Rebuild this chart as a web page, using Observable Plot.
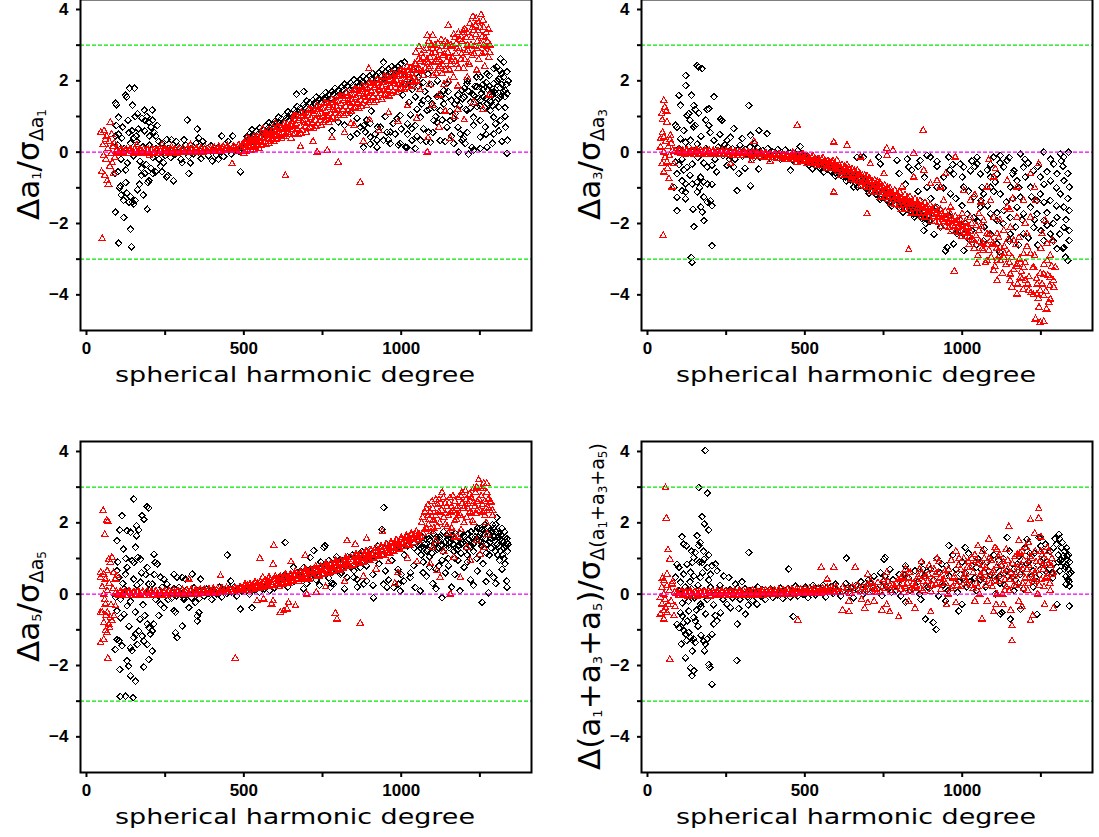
<!DOCTYPE html>
<html><head><meta charset="utf-8">
<script src="https://cdn.jsdelivr.net/npm/d3@7"></script>
<script src="https://cdn.jsdelivr.net/npm/@observablehq/plot@0.6"></script>
<style>
html,body{margin:0;padding:0;background:#fff;}
#wrap{position:relative;width:1099px;height:837px;overflow:hidden;background:#fff;}
#wrap svg{position:absolute;overflow:visible;}
</style></head><body><div id="wrap"></div>
<script>
// ---------- tick values ----------
const xTicks = [0, 250, 500, 750, 1000, 1250];
const xLabelled = [0, 500, 1000];
const yTicks = [-4, -3, -2, -1, 0, 1, 2, 3, 4];
const yLabelled = [-4, -2, 0, 2, 4];
const limitLines = [3, -3];
const zeroLine = [0];
const xTitle = "spherical harmonic degree";

// ---------- panel 1 : delta a1 ----------
const a1Black = [[92,1.37],[95,1.33],[124,1.6],[128,1.55],[137,1.79],[152,1.79],[146,1.31],[102,0.98],[162,1.08],[184,1.18],[209,1.18],[176,0.95],[186,0.9],[192,1.0],[198,0.85],[210,0.9],[135,0.55],[145,0.6],[92,0.45],[102,0.5],[112,0.4],[150,0.4],[158,0.45],[200,0.45],[220,0.45],[230,0.3],[255,0.35],[270,0.35],[92,-0.6],[105,-1.0],[108,-0.95],[92,-1.68],[118,-1.83],[102,-2.55],[140,-2.16],[143,-2.65],[128,-1.15],[140,-1.25],[135,-1.4],[145,-1.4],[150,-1.45],[155,-1.35],[118,-1.35],[162,-1.05],[193,-1.6],[175,-0.65],[185,-0.6],[195,-0.85],[198,-0.8],[210,-0.6],[220,-0.55],[235,-0.4],[245,-0.3],[255,-0.7],[258,-0.65],[277,-0.8],[325,-0.6],[489,-0.55],[304,-0.3],[320,0.9],[352,0.65],[357,0.4],[430,0.45],[465,0.45],[526,0.63],[667,1.62],[690,1.7],[100,0.2],[110,-0.2],[120,0.1],[130,-0.3],[140,0.25],[150,-0.1],[160,0.3],[170,-0.25],[180,0.15],[190,-0.35],[200,0.2],[210,-0.15],[220,0.1],[230,-0.2],[240,0.25],[250,-0.1],[115,0.7],[125,-0.5],[165,0.65],[175,-0.45],[185,0.6],[205,-0.45],[215,0.55],[240,-0.55],[125,-0.85],[168,-0.9],[180,-1.2],[110,-1.2],[100,-0.55],[95,0.75],[132,0.9],[155,1.0],[205,0.7],[225,0.75],
[260,0.1],[268,-0.15],[276,0.2],[284,-0.05],[292,0.15],[300,-0.2],[308,0.05],[316,0.2],[324,-0.12],[332,0.1],[340,-0.05],[348,0.25],[356,0.0],[364,-0.18],[372,0.12],[380,0.02],[388,-0.1],[396,0.18],[404,0.05],[412,-0.08],[420,0.15],[428,0.02],[436,-0.12],[444,0.12],[452,0.05],[460,-0.05],[468,0.15],[476,0.08],[484,0.02],[492,0.18],[500,0.1],[285,0.3],[310,0.35],[330,-0.3],[370,0.3],[400,-0.25],[450,0.3],[420,-0.2],
[870,0.7],[881,0.75],[886,0.56],[902,0.42],[918,0.51],[934,0.7],[955,0.56],[981,0.51],[987,0.94],[997,1.03],[1013,0.14],[1034,0.66],[1045,0.75],[1061,0.98],[1082,1.17],[1098,1.36],[1114,1.55],[1124,1.17],[1135,1.73],[1145,1.92],[1167,0.94],[1172,1.08],[1188,0.51],[1198,0.38],[1204,0.24],[1225,0.14],[1241,1.27],[1251,1.45],[1262,1.55],[1273,1.36],[1283,1.17],[1294,1.92],[1304,2.39],[1315,2.29],[1326,2.11],[1336,1.64],[1251,0.42],[1273,0.14],[1294,0.51],[1315,0.89],[1331,0.7],[1338,0.33],[1267,0.7],[1283,1.45],[1299,1.64],[1310,1.27],[880,0.14],[902,0.23],[923,0.14],[965,0.24],[1018,0.14],[1045,0.1],[1183,0.0],[1214,-0.06],[1230,0.05],[1251,0.1],[1336,-0.03],[1071,0.66],[1087,0.56],[1103,0.89],[1114,0.84],[1146,0.7],[1156,0.89],[1177,1.45],[1193,1.73],[1209,1.92],[1225,1.64],[1241,1.83],[1251,2.11],[1273,2.2],[1294,2.34],[1315,2.62],[1326,2.53],[1336,2.25],[1340,2.0],[1209,1.17],[1230,0.98],[1251,0.89],[1294,0.98],[1315,1.55],[1331,1.73],[1193,0.33],[1167,0.24],[1124,0.33],[1093,0.28],[1061,0.33],[1034,0.33],[997,0.24],[965,0.56],[944,0.33],[923,0.33],[902,0.8],[860,0.52],[838,0.42],[944,2.52],[1010,2.52],[1005,1.6],[1015,1.9],[1025,1.4],[1035,1.75],[1045,1.55],[1055,1.85],[1065,1.35],[1075,1.7],[1085,1.5],[1095,1.9],[1105,1.25],[1115,2.0],[1125,1.6],[1135,1.35],[1150,1.7],[1160,1.45],[1185,1.3],[1200,1.55],[1220,1.25],[1260,1.75],[1280,1.85],[1300,1.4],[1320,1.9],[1330,1.25],[1310,2.05],[1290,1.6],[1270,1.95]];

const a1BlackBand = [[505,0.23],[510,0.43],[515,0.36],[520,0.53],[525,0.3],[530,0.49],[535,0.38],[540,0.58],[545,0.5],[550,0.68],[555,0.45],[560,0.64],[565,0.53],[570,0.73],[575,0.66],[580,0.83],[585,0.6],[590,0.79],[595,0.68],[600,0.88],[605,0.81],[610,0.98],[615,0.75],[620,0.94],[625,0.83],[630,1.03],[635,0.96],[640,1.13],[645,0.9],[650,1.09],[655,0.98],[660,1.18],[665,1.11],[670,1.28],[675,1.05],[680,1.24],[685,1.13],[690,1.33],[695,1.26],[700,1.43],[705,1.19],[710,1.38],[715,1.26],[720,1.46],[725,1.38],[730,1.55],[735,1.31],[740,1.5],[745,1.38],[750,1.58],[755,1.5],[760,1.67],[765,1.43],[770,1.62],[775,1.5],[780,1.7],[785,1.62],[790,1.79],[795,1.55],[800,1.74],[805,1.62],[810,1.82],[815,1.74],[820,1.91],[825,1.67],[830,1.86],[835,1.74],[840,1.94],[845,1.86],[850,2.03],[855,1.79],[860,1.97],[865,1.85],[870,2.04],[875,1.96],[880,2.12],[885,1.88],[890,2.06],[895,1.94],[900,2.13],[905,2.05],[910,2.21],[915,1.97],[920,2.16],[925,2.04],[930,2.23],[935,2.15],[940,2.32],[945,2.07],[950,2.26],[955,2.13],[960,2.33],[965,2.24],[970,2.4],[975,2.16],[980,2.34],[985,2.21],[990,2.4],[995,2.32],[1000,2.48]];

const a1BlackFill = [[1200,1.8],[1210,2.0],[1220,1.4],[1230,1.6],[1240,2.1],[1250,1.3],[1260,1.9],[1270,1.5],[1280,2.15],[1290,1.3],[1300,1.75],[1310,1.5],[1320,2.2],[1330,1.55],[1335,1.9],[1325,1.7],[1315,1.8],[1305,2.0],[1295,1.7],[1285,1.4],[1275,1.75],[1265,1.25],[1255,1.65],[1245,1.5],[1235,1.85],[1215,1.7],[1205,1.2],[1195,1.5],[1180,1.6],[1170,1.35],[1155,1.15],[1140,1.5],[1130,0.9],[1110,1.0],[1090,1.2],[1070,1.45],[1050,1.2],[1030,1.05],[1020,0.8],[1000,0.65],[975,0.8],[950,1.0],[925,0.7],[905,1.15],[890,0.9],[860,0.95],[840,1.1],[820,0.75],[800,0.85],[780,0.6],[1310,0.6],[1320,0.3],[1290,0.25],[1270,0.5],[1230,0.75],[1210,0.55],[1180,0.7],[1160,0.45],[1140,0.3],[1100,0.55],[1080,0.3],[1050,0.45],[1020,0.5],[990,0.2],[960,0.35],[1330,1.0],[1300,0.8],[1010,2.2],[1025,2.05],[1040,2.3],[1055,2.1],[1070,1.95],[1085,2.2]];

const a1Red = [[50,-2.43],[45,0.55],[48,-0.55],[52,0.2],[54,-0.1],[56,0.6],[58,-0.65],[60,0.35],[62,-0.2],[64,0.45],[66,-0.8],[68,0.1],[70,-0.9],[72,0.3],[74,-0.4],[76,0.83],[78,-0.05],[80,0.5],[82,-0.3],[84,0.15],[86,-0.6],[88,0.25],[90,-0.15],
[95,0.03],[102,-0.02],[109,0.05],[116,0.0],[123,0.04],[130,-0.03],[137,0.06],[144,0.01],[151,-0.02],[158,0.04],[165,0.0],[172,0.05],[179,-0.02],[186,0.03],[193,0.06],[200,0.0],[207,0.04],[214,-0.02],[221,0.05],[228,0.01],[235,0.03],[242,-0.03],[249,0.06],[256,0.02],[263,0.0],[270,0.05],[277,0.03],[284,-0.02],[291,0.06],[298,0.02],[305,0.04],[312,0.0],[319,0.06],[326,0.03],[333,0.05],[340,0.01],[347,0.07],[354,0.03],[361,0.05],[368,0.02],[375,0.07],[382,0.04],[389,0.08],[396,0.03],[403,0.07],[410,0.05],[417,0.09],[424,0.05],[431,0.1],[438,0.07],[445,0.11],[452,0.08],
[460,0.04],[468,0.17],[476,0.08],[484,0.2],[492,0.05],[472,0.11],[488,0.13],[464,0.12],[480,0.02],[496,0.22],
[1045,2.45],[1050,2.0],[1055,2.6],[1060,2.3],[1065,2.75],[1070,2.15],[1075,2.5],[1080,2.9],[1083,3.27],[1088,2.35],[1092,2.65],[1096,3.0],[1100,3.27],[1104,2.5],[1108,2.8],[1112,2.2],[1116,3.05],[1120,2.6],[1124,2.4],[1128,2.95],[1132,2.7],[1136,1.9],[1140,3.1],[1144,2.55],[1148,2.8],[1150,3.55],[1154,2.3],[1158,3.0],[1162,2.65],[1166,2.1],[1170,3.2],[1174,2.75],[1178,2.45],[1182,3.35],[1186,2.9],[1190,2.6],[1194,3.1],[1198,2.35],[1202,3.45],[1206,2.8],[1210,3.0],[1214,2.5],[1218,3.6],[1222,3.2],[1226,2.7],[1230,3.4],[1234,2.95],[1238,3.75],[1242,3.1],[1246,2.6],[1250,3.5],[1254,3.85],[1258,3.25],[1262,3.0],[1266,2.8],[1270,3.35],[1274,3.1],[1278,2.65],[1282,3.0],
[1060,1.75],[1090,1.9],[1120,1.6],[1150,2.0],[1180,1.85],[1210,2.1],[1240,2.3],[1265,2.4],[1100,1.3],[1140,1.15],[1180,1.2],
[733,0.0],[765,0.05],[800,-0.29],[870,-0.85],[632,-0.66],[463,-0.33],[780,0.4],[820,0.55],[850,0.75],[880,0.3],[900,0.9],[930,0.6],[960,1.1],[990,0.85],[1020,1.3],[1050,0.95],[1083,0.0],[1085,0.4],[1120,0.7],[1156,0.38],[1170,1.0],[1200,0.9],[1230,1.4],[1260,1.2],[1280,1.6],
[897,2.34],[560,0.65],[580,0.62],[600,0.8],[655,0.78],[330,0.2],[240,0.2],[680,0.15],[720,0.3],[840,0.8],[160,0.2],[200,-0.1],[270,0.15]];

const a1RedBand = [[500,-0.03],[503,0.26],[506,0.12],[509,0.38],[512,0.07],[515,0.24],[518,0.35],[521,0.13],[524,0.04],[527,0.33],[530,0.19],[533,0.45],[536,0.14],[539,0.31],[542,0.43],[545,0.21],[548,0.11],[551,0.4],[554,0.26],[557,0.53],[560,0.22],[563,0.39],[566,0.51],[569,0.29],[572,0.2],[575,0.49],[578,0.35],[581,0.61],[584,0.3],[587,0.47],[590,0.59],[593,0.38],[596,0.29],[599,0.58],[602,0.44],[605,0.7],[608,0.39],[611,0.56],[614,0.69],[617,0.47],[620,0.38],[623,0.67],[626,0.53],[629,0.8],[632,0.49],[635,0.66],[638,0.78],[641,0.56],[644,0.48],[647,0.77],
[650,0.39],[653,0.86],[656,0.62],[659,1.02],[662,0.52],[665,0.79],[668,1.0],[671,0.63],[674,0.48],[677,0.95],[680,0.71],[683,1.11],[686,0.61],[689,0.88],[692,1.08],[695,0.71],[698,0.56],[701,1.03],[704,0.8],[707,1.2],[710,0.7],[713,0.97],[716,1.17],[719,0.8],[722,0.65],[725,1.13],[728,0.89],[731,1.29],[734,0.79],[737,1.06],[740,1.26],[743,0.89],[746,0.75],[749,1.22],[752,0.98],[755,1.38],[758,0.88],[761,1.15],[764,1.36],[767,0.99],[770,0.84],[773,1.31],[776,1.07],[779,1.48],[782,0.98],[785,1.25],[788,1.45],[791,1.08],[794,0.94],[797,1.41],[800,1.17],[803,1.57],[806,1.07],[809,1.35],[812,1.55],[815,1.18],[818,1.03],[821,1.5],[824,1.27],[827,1.67],[830,1.17],[833,1.44],[836,1.64],[839,1.28],[842,1.13],[845,1.6],[848,1.36],[851,1.76],[854,1.26],[857,1.54],[860,1.74],[863,1.37],[866,1.22],[869,1.69],[872,1.45],[875,1.85],[878,1.35],[881,1.62],[884,1.82],[887,1.45],[890,1.3],[893,1.78],[896,1.54],[899,1.94],[902,1.44],[905,1.71],[908,1.91],[911,1.54],[914,1.39],[917,1.87],[920,1.63],[923,2.03],[926,1.53],[929,1.8],[932,2.0],[935,1.63],[938,1.48],[941,1.96],[944,1.72],[947,2.12],[950,1.62],[953,1.89],[956,2.09],[959,1.72],[962,1.57],[965,2.04],[968,1.81],[971,2.21],[974,1.71],[977,1.98],[980,2.18],[983,1.81],[986,1.66],[989,2.13],[992,1.89],[995,2.29],[998,1.79],[1001,2.06],[1004,2.27],[1007,1.9],[1010,1.75],[1013,2.22],[1016,1.98],[1019,2.39],[1022,1.89],[1025,2.16],[1028,2.36],[1031,1.99],[1034,1.85],[1037,2.32],[1040,2.08],[1043,2.48],[1046,1.98],
[501,0.18],[507,0.03],[513,0.36],[519,0.15],[525,0.31],[531,0.08],[537,0.38],[543,0.27],[549,0.33],[555,0.18],[561,0.51],[567,0.3],[573,0.46],[579,0.24],[585,0.55],[591,0.44],[597,0.5],[603,0.35],[609,0.69],[615,0.48],[621,0.64],[627,0.43],[633,0.73],[639,0.63],[645,0.69],
[651,0.73],[657,0.49],[663,1.0],[669,0.65],[675,0.89],[681,0.53],[687,1.01],[693,0.82],[699,0.91],[705,0.66],[711,1.17],[717,0.83],[723,1.07],[729,0.71],[735,1.19],[741,1.0],[747,1.09],[753,0.84],[759,1.36],[765,1.01],[771,1.25],[777,0.9],[783,1.38],[789,1.19],[795,1.28],[801,1.03],[807,1.55],[813,1.2],[819,1.45],[825,1.09],[831,1.57],[837,1.38],[843,1.47],[849,1.23],[855,1.74],[861,1.39],[867,1.63],[873,1.27],[879,1.75],[885,1.56],[891,1.65],[897,1.4],[903,1.91],[909,1.56],[915,1.81],[921,1.45],[927,1.93],[933,1.74],[939,1.83],[945,1.58],[951,2.09],[957,1.75],[963,1.99],[969,1.63],[975,2.11],[981,1.91],[987,2.0],[993,1.76],[999,2.27],[1005,1.92],[1011,2.16],[1017,1.81],[1023,2.29],[1029,2.1],[1035,2.19],[1041,1.94]];

const a1RedFill = [[98,0.07],[105,-0.04],[112,0.07],[119,-0.03],[126,0.08],[133,-0.04],[140,0.07],[147,-0.05],[154,0.08],[161,-0.03],[168,0.07],[175,-0.04],[182,0.08],[189,-0.03],[196,0.07],[203,-0.05],[210,0.08],[217,-0.03],[224,0.07],[231,-0.04],[238,0.08],[245,-0.03],[252,0.07],[259,-0.04],[266,0.09],[273,-0.02],[280,0.08],[287,-0.03],[294,0.09],[301,-0.02],[308,0.09],[315,-0.02],[322,0.1],[329,-0.01],[336,0.1],[343,-0.01],[350,0.11],[357,0.0],[364,0.11],[371,0.0],[378,0.12],[385,0.01],[392,0.13],[399,0.01],[406,0.14],[413,0.02],[420,0.15],[427,0.03],[434,0.16],[441,0.04],[448,0.17],[455,0.05],
[1047,2.8],[1052,2.3],[1057,2.95],[1062,2.55],[1067,2.25],[1072,2.85],[1077,2.35],[1082,2.6],[1087,3.1],[1092,2.4],[1097,2.75],[1102,2.15],[1107,3.0],[1112,2.55],[1117,2.35],[1122,2.85],[1127,3.15],[1132,2.45],[1137,2.75],[1142,2.3],[1147,3.05],[1152,2.65],[1157,2.45],[1162,2.95],[1167,3.3],[1172,2.55],[1177,2.9],[1182,2.35],[1187,3.15],[1192,2.75],[1197,3.4],[1202,2.6],[1207,3.2],[1212,2.85],[1217,2.45],[1222,3.0],[1227,3.5],[1232,2.75],[1237,3.3],[1242,2.9],[1247,3.65],[1252,3.05],[1257,2.75],[1262,3.5],[1267,3.2],[1272,2.95],[1277,3.45],[1281,2.8],[1228,3.8],[1236,3.55],[1244,3.4],[1260,3.7],[1210,3.35],[1190,3.25],[1175,3.05],[1160,2.55],[1145,2.95],[1130,2.2],[1115,2.65],[1100,2.9],[1085,2.5],[1070,2.65],[1055,2.35]];

// ---------- panel 2 : delta a3 ----------
const a3Black = [[158,2.43],[163,2.39],[174,2.34],[121,2.15],[121,1.87],[100,1.59],[105,1.31],[140,1.59],[147,1.31],[152,1.2],[126,1.03],[131,1.08],[163,1.1],[190,1.2],[195,1.22],[211,1.55],[232,0.93],[237,0.89],[322,1.31],[89,0.75],[94,0.7],[115,0.61],[147,0.7],[152,0.75],[195,0.75],[274,0.66],[354,0.61],[380,0.52],[105,0.38],[121,0.28],[137,0.33],[158,0.23],[211,0.33],[253,0.33],[264,0.42],[301,0.38],[327,0.47],[89,-0.28],[100,-0.35],[126,-0.42],[142,-0.33],[179,-0.3],[190,-0.42],[205,-0.37],[253,-0.37],[274,-0.42],[94,-0.61],[110,-0.8],[121,-0.89],[84,-0.98],[94,-1.26],[110,-1.08],[121,-1.12],[142,-0.89],[158,-0.84],[169,-0.7],[179,-0.84],[190,-0.89],[94,-1.64],[121,-1.31],[158,-1.12],[179,-1.26],[190,-1.4],[169,-1.54],[174,-1.68],[200,-1.36],[205,-1.5],[179,-1.92],[147,-2.09],[205,-2.62],[139,-2.95],[142,-3.09],[285,-1.08],[327,-0.94],[354,-0.47],[454,-0.51],[486,0.16],[100,0.1],[130,0.15],[160,-0.15],[185,0.1],[215,-0.2],[225,0.15],[240,-0.1],[245,0.2],[110,-0.2],[150,0.05],[170,0.45],[200,0.55],[220,-0.55],[230,0.5],[260,-0.2],[290,-0.6],[310,-0.45],[340,0.25],[135,0.9],[185,0.9],[115,-0.5],[135,-0.65],[205,-0.9],[165,-1.0],[145,-1.6],
[255,0.15],[262,-0.1],[270,0.1],[278,-0.2],[286,0.05],[294,0.2],[302,-0.12],[310,0.08],[318,-0.05],[326,0.15],[334,-0.2],[342,0.0],[350,0.12],[358,-0.15],[366,0.05],[374,-0.08],[382,0.1],[390,-0.18],[398,0.0],[406,-0.1],[414,0.08],[422,-0.2],[430,-0.05],[438,0.06],[446,-0.15],[454,-0.02],[462,-0.22],[470,-0.08],[478,0.05],[486,-0.18],[494,-0.1],[502,-0.25],[510,-0.15],
[518,-0.3],[526,-0.24],[534,-0.36],[542,-0.29],[550,-0.4],[558,-0.33],[566,-0.46],[574,-0.38],[582,-0.52],[590,-0.44],[598,-0.58],[606,-0.5],[614,-0.64],[622,-0.56],[630,-0.7],[638,-0.62],[646,-0.78],[654,-0.7],[662,-0.86],[670,-0.77],[678,-0.94],[686,-0.85],[694,-1.02],[702,-0.93],[710,-1.1],[718,-1.0],[726,-1.18],[734,-1.08],[742,-1.26],[750,-1.15],[758,-1.33],[766,-1.22],[774,-1.4],[782,-1.3],[790,-1.47],[798,-1.37],[806,-1.53],[814,-1.42],[822,-1.6],[830,-1.5],[838,-1.66],[846,-1.55],[854,-1.72],[862,-1.62],[870,-1.8],[878,-1.68],[886,-1.88],[894,-1.76],
[666,-0.14],[687,-0.14],[735,-0.14],[740,-0.33],[793,-0.23],[825,-0.19],[830,-0.42],[867,-0.23],[888,-0.09],[899,-0.14],[957,-0.14],[994,-0.33],[1047,-0.14],[1047,-0.33],[1100,-0.14],[1121,-0.09],[1143,-0.23],[1185,-0.05],[1259,0.0],[1312,-0.05],[1338,0.0],[1323,-0.14],[1291,-0.33],[1301,-0.61],[1323,-0.8],[1280,-0.8],[1248,-0.7],[1227,-0.52],[1195,-0.42],[1164,-0.52],[1132,-0.42],[1111,-0.61],[1090,-0.7],[1058,-0.61],[1026,-0.52],[1005,-0.42],[973,-0.61],[941,-0.7],[920,-0.98],[963,-1.17],[1005,-0.98],[1037,-1.26],[1068,-1.17],[1090,-0.98],[1121,-1.17],[1153,-0.98],[1185,-1.26],[1217,-0.98],[1248,-1.17],[1280,-1.36],[1312,-1.17],[1340,-0.98],[1340,-1.64],[1323,-1.54],[1301,-1.83],[1323,-2.11],[1340,-2.48],[1323,-2.67],[1301,-2.71],[1328,-2.95],[1335,-3.04],[1280,-2.29],[1259,-1.92],[1238,-1.73],[1217,-1.54],[1195,-1.73],[1174,-1.54],[1153,-1.83],[1132,-1.64],[1111,-1.92],[1090,-1.73],[1058,-1.54],[1037,-1.83],[1016,-1.73],[994,-1.92],[984,-2.29],[1005,-2.29],[952,-2.67],[947,-2.76],[973,-2.57],[1005,-2.76],[1026,-2.48],[1068,-2.48],[1111,-2.57],[1153,-2.29],[1195,-2.29],[1227,-2.11],[1259,-2.48],[1238,-1.36],[1174,-0.8],[1105,-0.84],[1063,-0.98],[888,-0.98],[867,-1.36],[846,-1.73],[878,-2.2],[899,-1.92],[920,-1.54],[931,-2.11],[793,-1.36],[772,-1.17],[729,-0.94],[645,-0.61],[602,-0.52],[655,-0.98]];

const a3BlackFill = [[506,-0.14],[512,-0.36],[518,-0.27],[524,-0.47],[530,-0.24],[536,-0.37],[542,-0.23],[548,-0.45],[554,-0.36],[560,-0.56],[566,-0.34],[572,-0.47],[578,-0.33],[584,-0.55],[590,-0.47],[596,-0.67],[602,-0.45],[608,-0.58],[614,-0.46],[620,-0.68],[626,-0.6],[632,-0.81],[638,-0.59],[644,-0.73],[650,-0.6],[656,-0.83],[662,-0.76],[668,-0.97],[674,-0.76],[680,-0.9],[686,-0.78],[692,-1.01],[698,-0.94],[704,-1.15],[710,-0.94],[716,-1.08],[722,-0.96],[728,-1.19],[734,-1.12],[740,-1.33],[746,-1.12],[752,-1.26],[758,-1.14],[764,-1.37],[770,-1.3],[776,-1.51],[782,-1.3],[788,-1.44],[794,-1.32],[800,-1.55],[806,-1.47],[812,-1.68],[818,-1.46],[824,-1.6],[830,-1.47],[836,-1.69],[842,-1.62],[848,-1.82],[854,-1.61],[860,-1.75],[866,-1.63],[872,-1.86],[878,-1.79],[884,-2.0],[890,-1.79],[896,-1.93],
[800,-0.6],[820,-0.9],[840,-0.5],[860,-1.1],[880,-0.7],[900,-1.3],[920,-0.4],[940,-1.0],[960,-0.5],[980,-1.3],[1000,-0.7],[1020,-1.1],[1040,-0.4],[1060,-1.35],[1080,-0.5],[1100,-1.1],[1120,-0.3],[1140,-1.4],[1160,-0.6],[1180,-1.0],[1200,-0.2],[1220,-1.25],[1240,-0.4],[1260,-0.9],[1280,-0.2],[1300,-1.0],[1320,-0.4],[1335,-1.3],[1010,-2.0],[1030,-2.2],[1050,-1.95],[1070,-2.1],[1090,-2.3],[1110,-1.7],[1130,-2.0],[1150,-2.5],[1170,-2.1],[1190,-1.9],[1210,-2.4],[1230,-1.9],[1250,-2.2],[1270,-1.7],[1290,-2.0],[1310,-2.3],[1330,-1.9],[1340,-2.2],[1320,-2.7],[1290,-2.5],[1270,-2.05],[1240,-2.6],[1160,-1.3],[1080,-1.5],[1000,-1.5],[960,-1.8],[930,-1.6],[910,-2.3],[970,-2.2],[1045,-2.6],[1120,-2.8],[1180,-2.6],[1200,-0.7],[1260,-1.4],[1300,-1.5],[1335,-0.6],[1315,-0.25],[1270,-0.55],[1210,-0.3],[1150,-0.15],[1090,-0.35],[1030,-0.25],[970,-0.35],[920,-0.25],[860,-0.4]];

const a3Red = [[52,1.45],[55,1.26],[45,1.08],[62,0.84],[41,0.37],[52,0.42],[73,0.47],[41,0.14],[52,0.0],[46,-0.33],[62,-0.28],[84,-0.33],[52,-0.56],[68,-0.75],[78,-0.98],[50,-2.34],[58,0.3],[66,0.15],[70,-0.1],[76,0.25],[80,0.05],[48,0.55],[56,-0.15],[64,-0.45],[72,0.35],[60,1.15],[47,0.9],
[88,0.03],[95,-0.02],[102,0.05],[109,0.0],[116,-0.03],[123,0.04],[130,0.0],[137,-0.04],[144,0.03],[151,-0.01],[158,0.04],[165,-0.03],[172,0.02],[179,-0.02],[186,0.04],[193,0.0],[200,-0.04],[207,0.02],[214,-0.02],[221,0.03],[228,-0.03],[235,0.01],[242,-0.04],[249,0.02],[256,-0.02],[263,0.02],[270,-0.04],[277,0.0],[284,-0.03],[291,0.01],[298,-0.05],[305,-0.01],[312,-0.04],[319,0.0],[326,-0.05],[333,-0.02],[340,-0.06],[347,-0.02],[354,-0.07],[361,-0.03],[368,-0.08],[375,-0.04],[382,-0.09],[389,-0.05],[396,-0.1],[403,-0.06],[410,-0.11],[417,-0.07],[424,-0.13],[431,-0.08],[438,-0.14],[445,-0.1],[452,-0.16],[459,-0.12],
[466,-0.1],[474,-0.22],[482,-0.13],[490,-0.25],[498,-0.15],[506,-0.27],[514,-0.17],[522,-0.3],[530,-0.2],[538,-0.33],[546,-0.22],[554,-0.37],[562,-0.25],[570,-0.4],[578,-0.28],[586,-0.45],[594,-0.33],[602,-0.5],[610,-0.37],[618,-0.56],[626,-0.42],[634,-0.62],[642,-0.47],[650,-0.7],[658,-0.53],[666,-0.77],[674,-0.6],[682,-0.85],[690,-0.66],[698,-0.92],[706,-0.73],[714,-0.99],[722,-0.8],[730,-1.06],[738,-0.86],[746,-1.13],[754,-0.93],[762,-1.2],[770,-1.0],[778,-1.27],[786,-1.07],[794,-1.34],[802,-1.13],[810,-1.4],[818,-1.2],[826,-1.46],[834,-1.25],[842,-1.52],[850,-1.32],[858,-1.58],[866,-1.37],[874,-1.64],[882,-1.42],[890,-1.7],[898,-1.48],[906,-1.76],[914,-1.55],[922,-1.83],[930,-1.6],[938,-1.9],[946,-1.66],[954,-1.97],[962,-1.73],[970,-2.05],[978,-1.8],[986,-2.12],[994,-1.88],[1002,-2.2],[1010,-1.95],[1018,-2.28],
[470,-0.16],[486,-0.19],[502,-0.21],[518,-0.24],[534,-0.27],[550,-0.3],[566,-0.33],[582,-0.37],[598,-0.42],[614,-0.47],[630,-0.52],[646,-0.58],[662,-0.65],[678,-0.72],[694,-0.79],[710,-0.86],[726,-0.93],[742,-1.0],[758,-1.07],[774,-1.14],[790,-1.21],[806,-1.28],[822,-1.34],[838,-1.4],[854,-1.46],[870,-1.51],[886,-1.57],[902,-1.63],[918,-1.7],[934,-1.76],[950,-1.83],[966,-1.9],[982,-1.97],[998,-2.04],[1014,-2.11],
[1005,-1.08],[1026,-1.36],[1053,-1.73],[1079,-0.98],[1090,-1.36],[1100,-1.83],[1111,-2.29],[1121,-2.67],[1132,-2.95],[1143,-1.54],[1153,-2.11],[1164,-2.48],[1174,-3.14],[1185,-3.51],[1195,-2.85],[1206,-2.29],[1217,-1.83],[1227,-3.23],[1238,-3.7],[1248,-3.88],[1259,-3.42],[1270,-3.04],[1280,-3.51],[1291,-3.79],[1296,-3.23],[1233,-4.68],[1248,-4.77],[1259,-4.75],[1275,-4.21],[1280,-4.12],[1238,-3.98],[1259,-4.02],[1211,-3.88],[1201,-3.6],[1158,-3.79],[1153,-3.42],[1111,-3.6],[1100,-3.32],[1079,-3.04],[1047,-3.12],[975,-3.34],[1063,-2.71],[1037,-2.48],[1016,-2.29],[1090,-2.48],[1132,-2.2],[1174,-1.83],[1195,-1.36],[1217,-0.61],[1243,-0.33],[1084,-0.22],[978,-0.14],[1105,-0.47],[1143,-0.8],[1174,-0.98],[1233,-1.36],[1264,-1.92],[1286,-2.48],[1270,-2.57],[1254,-2.29],[1217,-2.85],[1195,-3.23],[1174,-3.98],[1148,-2.85],[1111,-3.04],[1068,-1.92],[1079,-2.29],[1053,-2.2],[1026,-1.83],[1000,-1.73],[984,-1.92],[963,-1.54],[941,-1.36],[931,-0.98],[920,-0.8],[947,-0.61],[899,-0.89],[878,-0.51],[846,-0.7],[809,-0.98],[751,-0.61],[708,-0.33],[677,-0.14],[761,-0.09],[846,-0.03],[592,-1.12],[698,-1.73],[830,-2.74],[876,0.61],[634,0.19],[592,0.28],[476,0.75],[264,-0.33],[330,-0.25],[338,0.3],[390,-0.26],[760,0.1],[780,0.05]];

const a3RedFill = [[98,0.06],[105,-0.05],[112,0.05],[119,-0.06],[126,0.06],[133,-0.05],[140,0.05],[147,-0.06],[154,0.05],[161,-0.06],[168,0.05],[175,-0.06],[182,0.04],[189,-0.07],[196,0.04],[203,-0.07],[210,0.04],[217,-0.07],[224,0.03],[231,-0.08],[238,0.03],[245,-0.08],[252,0.02],[259,-0.08],[266,0.02],[273,-0.09],[280,0.01],[287,-0.09],[294,0.0],[301,-0.1],[308,0.0],[315,-0.1],[322,-0.01],[329,-0.11],[336,-0.02],[343,-0.12],[350,-0.03],[357,-0.13],[364,-0.04],[371,-0.14],[378,-0.05],[385,-0.15],[392,-0.06],[399,-0.16],[406,-0.07],[413,-0.17],[420,-0.08],[427,-0.19],[434,-0.09],[441,-0.2],[448,-0.1],[455,-0.21],
[462,-0.01],[466,-0.22],[470,-0.1],[474,-0.29],[478,-0.07],[482,-0.19],[486,-0.27],[490,-0.1],[494,-0.05],[498,-0.26],[502,-0.14],[506,-0.33],[510,-0.12],[514,-0.24],[518,-0.32],[522,-0.15],[526,-0.11],[530,-0.31],[534,-0.2],[538,-0.39],[542,-0.18],[546,-0.29],[550,-0.38],[554,-0.21],[558,-0.17],[562,-0.37],[566,-0.26],[570,-0.45],[574,-0.24],[578,-0.35],[582,-0.44],[586,-0.28],[590,-0.25],[594,-0.46],[598,-0.36],[602,-0.23],[606,-0.55],[610,-0.38],[614,-0.66],[618,-0.36],[622,-0.53],[626,-0.67],[630,-0.42],[634,-0.36],[638,-0.67],[642,-0.51],[646,-0.78],[650,-0.48],[654,-0.66],[658,-0.8],[662,-0.57],[666,-0.51],[670,-0.83],[674,-0.67],[678,-0.95],[682,-0.65],[686,-0.83],[690,-0.97],[694,-0.73],[698,-0.67],[702,-0.99],[706,-0.83],[710,-1.11],[714,-0.81],[718,-0.99],[722,-1.13],[726,-0.89],[730,-0.83],[734,-1.14],[738,-0.98],[742,-1.26],[746,-0.96],[750,-1.14],[754,-1.28],[758,-1.05],[762,-0.99],[766,-1.32],[770,-1.16],[774,-1.45],[778,-1.15],[782,-1.33],[786,-1.48],[790,-1.24],[794,-1.18],[798,-1.5],[802,-1.33],[806,-1.6],[810,-1.3],[814,-1.47],[818,-1.6],[822,-1.36],[826,-1.29],[830,-1.6],[834,-1.44],[838,-1.71],[842,-1.4],[846,-1.58],[850,-1.71],[854,-1.47],[858,-1.4],[862,-1.71],[866,-1.55],[870,-1.82],[874,-1.52],[878,-1.69],[882,-1.83],[886,-1.58],[890,-1.52],[894,-1.83],[898,-1.67],[902,-1.94],[906,-1.64],[910,-1.82],[914,-1.96],[918,-1.71],[922,-1.65],[926,-1.97],[930,-1.8],[934,-2.08],[938,-1.78],[942,-1.96],[946,-2.09],[950,-1.85],[954,-1.79],[958,-2.11],[962,-1.94],[966,-2.22],[970,-1.92],[974,-2.1],[978,-2.24],[982,-2.0],[986,-1.93],[990,-2.25],[994,-2.09],[998,-2.37],[1002,-2.07],[1006,-2.25],[1010,-2.38],[1014,-2.14],[1018,-2.08],[1022,-2.4],[1026,-2.24],
[1022,-2.6],[1030,-2.0],[1038,-2.7],[1044,-2.35],[1050,-2.9],[1056,-2.5],[1062,-2.1],[1068,-2.75],[1074,-3.1],[1080,-2.6],[1086,-2.3],[1092,-2.95],[1098,-2.55],[1104,-3.2],[1110,-2.7],[1116,-2.4],[1122,-3.05],[1128,-3.4],[1134,-2.65],[1140,-3.15],[1146,-2.45],[1152,-3.6],[1158,-2.95],[1164,-3.3],[1170,-2.6],[1176,-3.7],[1182,-3.0],[1188,-3.35],[1194,-3.85],[1200,-3.1],[1206,-2.65],[1212,-3.5],[1218,-3.95],[1224,-3.25],[1230,-2.9],[1236,-3.55],[1242,-4.1],[1248,-3.4],[1254,-3.7],[1260,-3.15],[1266,-3.9],[1272,-3.45],[1278,-3.75],[1284,-3.2],[1290,-3.6],[1244,-4.35],[1268,-4.4],[1226,-4.0],[1208,-3.7],[1190,-3.55],[1172,-3.2],[1150,-3.1],[1135,-2.85],[1118,-2.9],[1100,-2.6],[1085,-2.75],[1065,-2.55],[1045,-2.05],[1032,-2.45],[1150,-1.6],[1200,-2.0],[1250,-2.7],[1280,-2.9],[1060,-1.4],[1120,-1.9],[1180,-2.4],[1100,-0.7],[1160,-1.3],[1230,-1.0],[1040,-1.2]];

// ---------- panel 3 : delta a5 ----------
const a5Black = [[150,2.67],[193,2.45],[198,2.41],[177,2.2],[182,2.1],[113,2.2],[106,1.8],[129,1.78],[140,1.73],[159,1.92],[166,1.8],[97,1.5],[117,1.26],[159,1.64],[156,1.31],[163,1.03],[172,0.98],[145,0.94],[150,0.89],[214,1.12],[193,0.75],[225,0.84],[219,0.89],[97,0.66],[103,0.47],[124,0.56],[129,0.75],[150,0.42],[172,0.33],[198,0.28],[209,0.28],[235,0.47],[246,0.42],[256,0.28],[278,0.56],[288,0.47],[304,0.47],[314,0.42],[336,0.56],[363,0.42],[447,1.1],[458,0.37],
[92,-0.09],[108,-0.14],[97,-0.47],[108,-0.66],[119,-0.56],[129,-0.33],[97,-1.27],[103,-1.31],[113,-1.45],[92,-1.55],[106,-2.11],[134,-2.02],[129,-1.87],[140,-1.5],[145,-1.59],[150,-1.22],[156,-1.12],[161,-1.41],[166,-1.03],[177,-1.17],[182,-1.31],[156,-2.44],[140,-2.29],[108,-2.87],[124,-2.86],[148,-2.9],[193,-0.84],[198,-0.94],[209,-1.03],[203,-1.12],[214,-0.84],[193,-1.41],[209,-1.59],[198,-1.83],[182,-2.04],[235,-0.28],[246,-0.38],[278,-0.47],[283,-0.51],[283,-1.08],[288,-1.22],[304,-0.89],[325,-0.38],[346,-0.23],[357,-0.51],[352,-0.61],[352,-0.75],[489,-0.42],[526,-0.38],[309,-0.09],[120,0.15],[140,-0.2],[160,0.25],[180,-0.3],[200,0.1],[220,-0.15],[240,0.2],[115,0.3],[135,0.05],[155,-0.5],[175,0.6],[185,-0.6],[215,0.55],[230,-0.6],[260,-0.15],[135,-0.9],[170,-0.7],[100,0.9],[125,1.0],[188,0.55],[228,-0.05],
[262,0.1],[270,-0.12],[278,0.15],[286,-0.05],[294,0.2],[302,0.0],[310,-0.15],[318,0.12],[326,0.02],[334,-0.1],[342,0.18],[350,0.05],[358,-0.12],[366,0.1],[374,-0.05],[382,0.15],[390,0.02],[398,-0.15],[406,0.1],[414,0.0],[422,0.2],[430,-0.08],[438,0.12],[446,0.02],[454,0.18],[462,0.06],[470,0.2],[478,-0.05],[486,0.15],[494,0.08],[502,0.22],[510,0.1],[518,0.0],[526,0.2],[534,0.12],[542,0.25],[550,0.05],[558,0.22],[566,0.15],[574,0.3],[582,0.1],[590,0.25],[598,0.18],
[658,0.75],[680,0.65],[711,1.03],[722,1.22],[754,1.31],[758,1.36],[632,1.45],[944,2.43],[939,1.82],[775,0.19],[785,0.28],[807,0.56],[828,0.47],[849,0.47],[860,0.42],[881,0.28],[891,0.37],[912,-0.1],[944,0.28],[955,0.19],[976,0.19],[992,0.28],[997,0.09],[1008,0.37],[1029,0.47],[1045,0.19],[1061,0.09],
[620,0.3],[640,0.4],[660,0.35],[680,0.5],[700,0.45],[720,0.55],[740,0.5],[760,0.65],[780,0.6],[800,0.7],[820,0.8],[840,0.75],[860,0.9],[880,0.95],[900,1.0],[920,1.05],[940,1.1],[960,1.2],[980,1.25],[1000,1.3],[1020,1.35],[1040,1.3],[640,0.2],[700,0.3],[730,0.4],[770,0.45],[810,0.6],[850,0.65],[890,0.8],[930,0.85],[970,0.95],[1010,1.1],[1030,0.6],[990,0.7],[950,0.65],[910,0.55],[870,0.75],[830,1.05],[790,0.9],[750,0.75],[710,0.7],[670,0.6],
[1055,1.5],[1062,1.3],[1068,1.6],[1075,1.4],[1082,1.2],[1088,1.55],[1095,1.35],[1102,1.7],[1108,1.45],[1115,1.25],[1122,1.6],[1128,1.4],[1135,1.75],[1142,1.3],[1148,1.55],[1155,1.45],[1162,1.65],[1168,1.2],[1175,1.5],[1182,1.35],[1188,1.7],[1195,1.45],[1202,1.6],[1208,1.3],[1215,1.55],[1222,1.75],[1228,1.4],[1235,1.6],[1242,1.85],[1248,1.5],[1255,1.35],[1262,1.7],[1268,1.55],[1275,1.9],[1282,1.45],[1288,1.75],[1295,1.6],[1300,1.95],[1305,1.4],[1310,1.7],[1315,1.55],[1320,1.85],[1325,1.3],[1330,1.6],[1335,1.45],[1338,1.2],[1322,1.1],[1312,0.95],[1330,0.85],[1300,1.2],[1280,1.1],[1304,2.15],[1290,1.95],[1265,1.95],[1250,1.85],
[1130,-0.1],[1187,0.09],[1257,-0.23],[1278,0.04],[1336,0.19],[1336,0.37],[1294,0.47],[1241,0.65],[1080,0.5],[1100,0.3],[1120,0.8],[1140,0.6],[1160,0.2],[1180,0.95],[1200,0.75],[1220,0.4],[1240,1.0],[1260,0.85],[1280,0.6],[1300,0.3],[1320,0.7],[1070,0.9],[1090,1.05],[1150,1.0],[1210,1.1],[1230,0.25],[1270,0.35],[1110,0.15],[1170,0.55]];

const a5BlackFill = [[1052,1.2],[1058,1.4],[1064,1.1],[1072,1.3],[1078,1.55],[1085,1.25],[1092,1.5],[1098,1.15],[1105,1.4],[1112,1.6],[1118,1.3],[1125,1.5],[1132,1.2],[1138,1.45],[1145,1.65],[1152,1.3],[1158,1.55],[1165,1.4],[1172,1.7],[1178,1.25],[1185,1.55],[1192,1.4],[1198,1.65],[1205,1.45],[1212,1.7],[1218,1.35],[1225,1.6],[1232,1.45],[1238,1.75],[1245,1.6],[1252,1.45],[1258,1.8],[1265,1.65],[1272,1.4],[1278,1.7],[1285,1.55],[1292,1.85],[1298,1.5],[1302,1.75],[1308,1.6],[1312,1.35],[1318,1.65],[1322,1.5],[1328,1.75],[1332,1.35],[1336,1.55],[1340,1.4],[1326,1.0],[1316,1.2],[1306,1.1],[1286,1.3],[1270,1.15],[1250,1.1],[1230,1.2],[1210,0.9],[1190,1.15],[1170,1.0],[1150,0.8],[1130,0.95],[1110,0.7],[1090,0.75],[1070,0.6],
[610,0.45],[630,0.55],[650,0.5],[670,0.45],[690,0.75],[720,0.7],[745,0.9],[770,0.95],[795,1.05],[815,0.95],[845,1.1],[875,1.2],[900,1.25],[925,1.35],[955,1.4],[985,1.5],[1015,1.6],[1035,1.55],[960,0.4],[1000,0.55],[1040,0.8],[910,0.25],[860,0.2],[820,0.15],[780,0.3],[740,0.25],[690,0.15]];

const a5Red = [[53,2.34],[64,2.06],[68,2.04],[58,1.67],[45,0.61],[55,0.56],[66,0.65],[76,0.89],[71,0.98],[81,1.03],[45,0.47],[60,0.42],[66,0.09],[55,0.0],[45,-0.51],[50,-0.51],[60,-0.28],[66,-0.51],[76,-0.66],[55,-0.8],[71,-0.84],[81,-0.75],[60,-1.03],[66,-1.08],[45,-1.36],[55,-1.27],[68,-1.8],[87,-0.61],[92,-0.33],[92,0.42],[97,0.51],[50,0.2],[58,-0.15],[72,0.3],[78,-0.3],[84,0.15],[62,-0.6],[74,-0.95],[86,0.6],
[92,0.03],[99,-0.02],[106,0.05],[113,0.0],[120,0.04],[127,-0.03],[134,0.06],[141,0.01],[148,0.04],[155,-0.02],[162,0.05],[169,0.0],[176,0.04],[183,-0.03],[190,0.05],[197,0.01],[204,0.04],[211,-0.02],[218,0.06],[225,0.0],[232,0.04],[239,-0.02],[246,0.05],[253,0.01],[260,0.04],[267,-0.01],[274,0.06],[281,0.02],[288,0.05],[295,0.0],[302,0.06],[309,0.02],[316,0.05],[323,0.01],[330,0.07],[337,0.03],[344,0.06],[351,0.02],[358,0.08],[365,0.04],[372,0.07],[379,0.03],[386,0.09],[393,0.05],[400,0.08],[407,0.05],[414,0.1],[421,0.06],[428,0.11],[435,0.07],[442,0.12],[449,0.08],[456,0.13],
[464,0.08],[472,0.18],[480,0.11],[488,0.21],[496,0.13],[504,0.24],[512,0.15],[520,0.27],[528,0.18],[536,0.3],[544,0.2],[552,0.33],[560,0.22],[568,0.35],[576,0.24],[584,0.38],[592,0.27],[600,0.41],[608,0.3],[616,0.45],[624,0.33],[632,0.48],[640,0.36],[648,0.52],[656,0.39],[664,0.55],[672,0.42],[680,0.58],[688,0.45],[696,0.62],[704,0.48],[712,0.66],[720,0.5],[728,0.7],[736,0.53],[744,0.74],[752,0.57],[760,0.79],[768,0.6],[776,0.84],[784,0.64],[792,0.88],[800,0.68],[808,0.93],[816,0.72],[824,0.98],[832,0.76],[840,1.03],[848,0.8],[856,1.08],[864,0.85],[872,1.13],[880,0.89],[888,1.18],[896,0.94],[904,1.23],[912,0.99],[920,1.29],[928,1.04],[936,1.34],[944,1.09],[952,1.4],[960,1.14],[968,1.46],[976,1.2],[984,1.52],[992,1.26],[1000,1.58],[1008,1.32],[1016,1.64],[1024,1.38],[1032,1.7],[1040,1.44],[1048,1.76],[1056,1.5],
[476,0.14],[492,0.17],[508,0.19],[524,0.22],[540,0.25],[556,0.28],[572,0.3],[588,0.33],[604,0.36],[620,0.39],[636,0.42],[652,0.46],[668,0.49],[684,0.52],[700,0.55],[716,0.58],[732,0.62],[748,0.66],[764,0.7],[780,0.74],[796,0.78],[812,0.83],[828,0.87],[844,0.92],[860,0.97],[876,1.01],[892,1.06],[908,1.11],[924,1.16],[940,1.22],[956,1.27],[972,1.33],[988,1.39],[1004,1.45],[1020,1.51],[1036,1.57],[1052,1.63],
[1065,2.0],[1070,1.7],[1075,2.3],[1080,1.85],[1085,2.5],[1090,2.1],[1095,1.75],[1100,2.4],[1105,2.05],[1110,2.65],[1115,1.9],[1120,2.3],[1125,2.55],[1130,2.85],[1135,2.15],[1140,1.95],[1145,2.45],[1150,2.2],[1155,2.7],[1160,1.85],[1165,2.35],[1170,2.6],[1175,2.1],[1180,2.45],[1185,2.25],[1190,2.75],[1193,2.85],[1198,2.4],[1204,2.9],[1208,2.15],[1212,2.55],[1218,2.3],[1222,2.7],[1226,2.05],[1230,2.95],[1234,2.45],[1238,2.25],[1242,2.6],[1246,3.2],[1250,2.35],[1254,2.75],[1258,2.5],[1262,3.1],[1266,2.2],[1270,2.4],[1272,3.1],[1276,2.65],[1280,2.35],[1285,2.57],[1290,2.2],[1278,2.67],
[473,-1.8],[595,1.36],[551,1.0],[593,0.84],[560,0.47],[580,0.47],[542,-0.19],[563,-0.14],[588,-0.28],[593,-0.19],[616,-0.51],[627,-0.47],[637,-0.42],[664,-0.33],[325,0.42],[426,0.51],[642,-0.24],[791,-0.54],[796,-0.7],[870,-0.82],[695,1.08],[828,1.5],[854,1.4],[760,0.2],[820,0.35],[880,0.5],[920,0.7],[960,0.9],[990,0.6],[1020,1.0],[1050,0.9],[1093,0.85],[1114,0.65],[1124,0.46],[1156,0.0],[1167,1.03],[1188,0.46],[1209,1.31],[1220,0.94],[1240,1.5],[1251,1.12],[1273,1.68],[1262,1.31],[1135,1.2],[1180,1.6],[1100,1.3],[980,0.3],[890,1.55],[940,1.75],[730,0.05],[700,0.0],[650,0.9]];

const a5RedFill = [[95,0.07],[102,-0.04],[109,0.08],[116,-0.04],[123,0.07],[130,-0.05],[137,0.08],[144,-0.04],[151,0.07],[158,-0.05],[165,0.08],[172,-0.04],[179,0.07],[186,-0.04],[193,0.08],[200,-0.04],[207,0.08],[214,-0.03],[221,0.09],[228,-0.03],[235,0.08],[242,-0.03],[249,0.09],[256,-0.03],[263,0.09],[270,-0.02],[277,0.1],[284,-0.02],[291,0.1],[298,-0.02],[305,0.11],[312,-0.01],[319,0.11],[326,-0.01],[333,0.12],[340,0.0],[347,0.12],[354,0.0],[361,0.13],[368,0.01],[375,0.13],[382,0.02],[389,0.14],[396,0.02],[403,0.15],[410,0.03],[417,0.16],[424,0.04],[431,0.17],[438,0.05],[445,0.18],[452,0.06],
[504,0.28],[508,0.11],[512,0.23],[516,0.09],[520,0.28],[524,0.19],[528,0.13],[532,0.29],[536,0.34],[540,0.17],[544,0.29],[548,0.15],[552,0.33],[556,0.25],[560,0.19],[564,0.35],[568,0.4],[572,0.23],[576,0.35],[580,0.21],[584,0.4],[588,0.32],[592,0.25],[596,0.41],[600,0.5],[604,0.27],[608,0.43],[612,0.22],[616,0.49],[620,0.37],[624,0.28],[628,0.5],[632,0.56],[636,0.33],[640,0.49],[644,0.29],[648,0.56],[652,0.43],[656,0.34],[660,0.56],[664,0.63],[668,0.4],[672,0.55],[676,0.35],[680,0.62],[684,0.5],[688,0.41],[692,0.62],[696,0.69],[700,0.46],[704,0.62],[708,0.42],[712,0.69],[716,0.57],[720,0.48],[724,0.7],[728,0.77],[732,0.54],[736,0.7],[740,0.5],[744,0.77],[748,0.65],[752,0.56],[756,0.78],[760,0.85],[764,0.62],[768,0.78],[772,0.58],[776,0.85],[780,0.73],[784,0.65],[788,0.87],[792,0.94],[796,0.71],[800,0.87],[804,0.67],[808,0.94],[812,0.82],[816,0.74],[820,0.96],[824,1.03],[828,0.8],[832,0.96],[836,0.76],[840,1.03],[844,0.91],[848,0.82],[852,1.05],[856,1.12],[860,0.89],[864,1.05],[868,0.85],[872,1.12],[876,1.0],[880,0.91],[884,1.14],[888,1.21],[892,0.98],[896,1.14],[900,0.94],[904,1.21],[908,1.09],[912,1.01],[916,1.23],[920,1.3],[924,1.07],[928,1.23],[932,1.04],[936,1.31],[940,1.19],[944,1.1],[948,1.32],[952,1.4],[956,1.17],[960,1.33],[964,1.14],[968,1.41],[972,1.3],[976,1.21],[980,1.43],[984,1.51],[988,1.28],[992,1.44],[996,1.25],[1000,1.52],[1004,1.41],[1008,1.32],[1012,1.55],[1016,1.62],[1020,1.4],[1024,1.57],[1028,1.37],[1032,1.65],[1036,1.53],[1040,1.45],[1044,1.68],[1048,1.75],[1052,1.53],[1056,1.69],
[1062,1.6],[1068,2.15],[1074,1.8],[1080,2.4],[1086,1.95],[1092,2.3],[1098,2.6],[1104,1.85],[1110,2.2],[1116,2.5],[1122,2.0],[1128,2.35],[1134,2.7],[1140,2.25],[1146,1.9],[1152,2.55],[1158,2.3],[1164,2.75],[1170,2.05],[1176,2.4],[1182,2.7],[1188,2.2],[1194,2.55],[1200,2.0],[1206,2.65],[1212,2.4],[1218,2.8],[1224,2.25],[1230,2.55],[1236,2.85],[1242,2.35],[1248,2.65],[1254,2.95],[1260,2.3],[1266,2.6],[1272,2.85],[1278,2.4],[1284,2.6],[1290,2.35],[1240,3.0],[1260,2.95],[1220,2.6],[1200,2.45],[1180,2.2],[1160,2.45],[1140,2.55],[1120,2.65],[1100,2.05],[1085,2.2],[1150,1.7],[1190,1.8],[1230,2.0],[1270,2.0],[1110,1.5],[1170,1.6]];

// ---------- panel 4 : delta (a1+a3+a5) ----------
const sumBlack = [[184,4.03],[163,2.99],[190,2.83],[174,2.17],[181,1.97],[195,1.8],[110,1.61],[115,1.4],[124,1.36],[158,1.64],[163,1.36],[168,1.45],[152,1.17],[147,1.03],[94,0.84],[100,0.75],[126,0.84],[142,0.89],[174,0.89],[179,0.98],[190,0.75],[205,0.79],[216,0.84],[221,0.65],[115,0.56],[137,0.61],[147,0.51],[89,0.47],[105,0.33],[168,0.47],[200,0.56],[322,1.17],[243,0.51],[258,0.47],[280,0.28],
[94,-0.84],[100,-0.94],[105,-0.52],[110,-0.61],[115,-0.8],[126,-0.75],[131,-0.47],[147,-0.66],[152,-0.75],[116,-1.03],[121,-1.12],[107,-1.4],[121,-1.78],[131,-1.08],[137,-1.22],[147,-1.26],[152,-1.36],[142,-1.59],[137,-2.06],[147,-2.14],[142,-2.29],[179,-1.31],[184,-1.4],[190,-1.26],[195,-1.97],[198,-2.06],[181,-1.59],[205,-2.53],[205,-1.12],[211,-0.84],[221,-0.75],[232,-0.52],[283,-1.86],[285,-0.84],[311,-0.56],[168,-0.28],[253,-0.28],[264,-0.38],[348,-0.28],[463,-0.63],[449,0.7],
[120,0.2],[130,-0.2],[140,0.15],[150,-0.1],[160,0.25],[170,-0.35],[180,0.1],[190,-0.15],[200,0.2],[210,-0.3],[220,0.05],[230,0.25],[240,-0.15],[250,0.1],[100,0.1],[110,-0.25],[135,0.35],[155,-0.45],[175,0.6],[185,-0.55],[195,0.4],[215,-0.6],[160,-0.9],[170,-1.15],[125,-1.3],[165,0.9],[195,1.1],[140,1.2],[178,1.2],[300,0.35],[320,-0.3],[290,-0.4],
[262,0.12],[270,-0.1],[278,0.05],[286,0.18],[294,-0.15],[302,0.0],[310,0.15],[318,-0.08],[326,0.1],[334,-0.18],[342,0.05],[350,0.2],[358,-0.05],[366,0.12],[374,-0.15],[382,0.02],[390,0.15],[398,-0.1],[406,0.08],[414,-0.02],[422,0.18],[430,-0.12],[438,0.05],[446,0.15],[454,-0.08],[462,0.1],[470,0.22],[478,-0.05],[486,0.12],[494,0.0],[502,0.2],[510,-0.1],[518,0.08],[526,0.25],[534,-0.02],[542,0.15],[550,0.05],[558,0.25],[566,-0.08],[574,0.12],[582,0.2],[590,0.02],[598,0.28],[606,0.1],[614,-0.05],[622,0.2],[630,0.3],[638,0.05],[646,0.18],[654,-0.1],[662,0.25],[670,0.1],[678,0.35],[686,0.0],[694,0.2],[702,0.4],
[883,-0.7],[908,-0.8],[918,-0.99],[632,1.01],[756,1.03],[751,0.98],[957,1.36],[1010,1.31],[1143,1.59],[1206,1.54],[1243,1.59],[1248,1.6],[1307,1.68],[1322,1.08],[1333,1.08],[1312,0.94],[1328,0.75],[1338,0.7],[1340,0.56],[1336,0.42],[1330,0.28],[1340,0.23],[1340,-0.33],[1301,-0.28],[1127,-0.52],[1121,-0.56],[1153,-0.7],[1185,-0.42],[1238,-0.56],[989,-0.47],[999,-0.28],[947,-0.19],[820,-0.23],[868,-0.15],
[710,0.3],[720,0.5],[730,0.15],[740,0.6],[750,0.35],[760,0.2],[770,0.7],[780,0.4],[790,0.1],[800,0.55],[810,0.3],[820,0.8],[830,0.45],[840,0.15],[850,0.65],[860,0.35],[870,0.9],[880,0.5],[890,0.2],[900,0.7],[910,0.4],[920,1.0],[930,0.6],[940,0.25],[950,0.8],[960,0.5],[970,1.1],[980,0.7],[990,0.35],[1000,0.9],[1010,0.6],[1020,1.15],[1030,0.8],[1040,0.45],[1050,1.0],[1060,0.7],[1070,1.25],[1080,0.9],[1090,0.55],[1100,1.1],[1110,0.75],[1120,0.3],[1130,1.0],[1140,0.65],[1150,1.2],[1160,0.85],[1170,0.4],[1180,1.05],[1190,0.7],[1200,1.3],[1210,0.9],[1220,0.5],[1230,1.15],[1240,0.8],[1250,1.35],[1260,1.0],[1270,0.6],[1280,1.2],[1290,0.85],[1300,1.4],[1305,1.1],[1310,0.65],[1315,1.3],[1320,0.9],[1325,1.2],[1330,0.5],[1335,0.95],[1340,0.35],[1318,1.45],[1295,1.55],[1265,1.4],[1225,0.2],[1195,0.15],[1165,0.1],[1135,0.25],[1105,0.0],[1075,0.2],[1045,0.1],[1015,0.2],[985,0.05],[955,0.1],[925,-0.05],[895,0.15],[865,0.0],[835,0.1],[805,-0.05],[775,0.05],[745,-0.05],[715,0.08],[1058,0.4],[1118,0.5],[1178,0.3],[1238,0.35],[1288,0.45],
[1005,0.45],[1025,0.35],[1045,0.75],[1065,0.45],[1085,0.65],[1105,0.4],[1125,0.8],[1145,0.5],[1165,0.7],[1185,0.55],[1205,0.85],[1225,0.65],[1245,0.55],[1265,0.8],[1285,0.6],[1305,0.9],[1325,0.7],[1338,1.1],[1332,1.3],[1342,0.9],[1345,0.6],[1310,1.55],[1290,1.3],[1260,1.2],[1215,1.15],[1175,0.85],[1115,0.95],[1055,0.85],[995,0.55],[935,0.85],[875,0.7],[815,0.55],[755,0.5]];

const sumRed = [[57,2.98],[60,2.13],[65,1.24],[71,0.98],[62,0.56],[52,0.37],[46,0.19],[62,0.23],[78,0.28],[41,-0.09],[52,0.0],[46,-0.28],[57,-0.38],[41,-0.56],[52,-0.47],[62,-0.52],[52,-0.7],[84,-0.61],[71,-1.83],[70,0.1],[75,-0.2],[80,0.35],[66,-0.3],[48,0.45],[86,0.05],[88,-0.35],[56,-0.15],
[92,0.03],[99,-0.03],[106,0.05],[113,0.0],[120,0.04],[127,-0.02],[134,0.06],[141,0.01],[148,-0.03],[155,0.05],[162,0.0],[169,0.04],[176,-0.02],[183,0.06],[190,0.01],[197,0.04],[204,-0.03],[211,0.05],[218,0.0],[225,0.04],[232,-0.02],[239,0.06],[246,0.01],[253,0.04],[260,-0.02],[267,0.05],[274,0.0],[281,0.04],[288,-0.02],[295,0.06],[302,0.02],[309,0.04],[316,-0.01],[323,0.05],[330,0.02],[337,0.06],[344,0.0],[351,0.05],[358,0.02],[365,0.06],[372,0.01],[379,0.05],[386,0.03],[393,0.07],[400,0.01],[407,0.05],[414,0.03],[421,0.07],[428,0.02],[435,0.06],[442,0.04],[449,0.08],[456,0.02],[463,0.06],[470,0.04],[477,0.08],[484,0.03],[491,0.07],[498,0.05],[505,0.09],[512,0.04],[519,0.08],[526,0.06],[533,0.1],[540,0.04],[547,0.09],[554,0.07],[561,0.11],[568,0.05],[575,0.1],[582,0.08],[589,0.12],[596,0.06],
[604,0.12],[612,0.05],[620,0.18],[628,0.08],[636,0.15],[644,0.02],[652,0.2],[660,0.1],[668,0.25],[676,0.06],[684,0.18],[692,0.12],[700,0.28],[708,0.05],[716,0.2],[724,0.14],[732,0.32],[740,0.08],[748,0.22],[756,0.16],[764,0.35],[772,0.1],[780,0.25],[788,0.18],[796,0.4],[804,0.12],[812,0.28],[820,0.2],[828,0.45],[836,0.1],[844,0.3],[852,0.22],[860,0.5],[868,0.15],[876,0.35],[884,0.25],[892,0.55],[900,0.08],[908,0.38],[916,0.28],[924,0.6],[932,0.12],[940,0.4],[948,0.3],[956,0.7],[964,0.15],[972,0.45],[980,0.35],[988,0.8],[996,0.2],[1004,0.5],[1012,0.38],[1020,0.9],[1028,0.25],
[1035,0.6],[1040,1.1],[1045,0.3],[1050,0.85],[1055,0.0],[1060,0.55],[1063,-0.7],[1065,1.2],[1070,0.4],[1075,0.75],[1080,-0.2],[1085,1.54],[1088,0.5],[1092,0.95],[1096,0.2],[1100,0.65],[1104,1.3],[1108,-0.3],[1112,0.8],[1116,0.35],[1120,1.1],[1124,0.55],[1128,0.0],[1132,0.9],[1136,0.4],[1140,1.25],[1144,0.7],[1148,1.89],[1150,0.1],[1154,-0.45],[1158,-1.31],[1158,-0.89],[1160,0.85],[1164,0.5],[1168,1.05],[1172,0.25],[1176,0.75],[1180,-0.2],[1184,1.15],[1188,0.6],[1192,0.3],[1196,0.95],[1200,0.45],[1204,1.3],[1208,0.1],[1212,0.8],[1216,0.55],[1217,2.08],[1217,-0.75],[1220,1.0],[1224,-0.61],[1228,0.35],[1232,1.2],[1236,0.65],[1240,0.0],[1243,2.39],[1243,2.13],[1246,0.9],[1250,0.4],[1254,1.1],[1258,0.7],[1262,-0.3],[1266,0.95],[1270,0.5],[1274,1.2],[1278,0.3],[1282,0.8],[1286,0.55],[1290,-0.4],[1040,-0.2],[1110,0.0],[1130,-0.3],[1190,-0.35],[1260,0.2],[1100,-0.5],[1050,1.35],[1180,1.5],[1250,1.6],[1070,1.0],[1140,0.2],[1210,1.45],[1230,1.7],
[478,-0.73],[552,0.75],[571,0.42],[592,0.75],[660,0.75],[798,-0.64],[760,-0.3],[720,-0.2],[700,-0.25],[640,-0.2],[680,-0.15],[850,-0.4],[900,-0.5],[950,-0.3],[870,0.9],[920,1.0],[980,1.2],[1016,0.75],[820,0.7],[760,0.6],[700,0.55],[830,-0.2],[980,-0.25],[620,-0.45],[640,-0.5],[690,-0.4],[745,-0.45],[770,-0.5]];

const sumRedFill = [[95,0.07],[102,-0.05],[109,0.08],[116,-0.05],[123,0.07],[130,-0.06],[137,0.08],[144,-0.05],[151,0.07],[158,-0.06],[165,0.08],[172,-0.05],[179,0.07],[186,-0.05],[193,0.08],[200,-0.06],[207,0.07],[214,-0.05],[221,0.08],[228,-0.05],[235,0.07],[242,-0.05],[249,0.08],[256,-0.04],[263,0.08],[270,-0.05],[277,0.09],[284,-0.04],[291,0.08],[298,-0.04],[305,0.09],[312,-0.04],[319,0.09],[326,-0.03],[333,0.1],[340,-0.03],[347,0.09],[354,-0.03],[361,0.1],[368,-0.03],[375,0.1],[382,-0.02],[389,0.11],[396,-0.02],[403,0.11],[410,-0.02],[417,0.12],[424,-0.01],[431,0.12],[438,-0.01],[445,0.13],[452,0.0],[459,0.13],[466,0.0],[473,0.14],[480,0.01],[487,0.14],[494,0.01],[501,0.15],[508,0.02],[515,0.15],[522,0.02],[529,0.16],[536,0.03],[543,0.16],[550,0.03],[557,0.17],[564,0.04],[571,0.18],[578,0.04],[585,0.18],[592,0.05],[599,0.19],
[805,0.45],[815,0.05],[825,0.3],[835,0.6],[845,0.15],[855,0.4],[865,0.7],[875,0.1],[885,0.5],[895,0.8],[905,0.25],[915,0.55],[925,0.9],[935,0.3],[945,0.65],[955,0.0],[965,0.95],[975,0.5],[985,0.25],[995,0.7],[1005,1.0],[1015,0.3],[1025,0.75],[1035,0.15],[1045,0.95],[1055,0.5],[1065,0.8],[1075,0.25],[1085,1.0],[1095,0.6],[1105,0.35],[1115,1.05],[1125,0.8],[1135,0.1],[1145,0.95],[1155,0.6],[1165,0.25],[1175,1.1],[1185,0.8],[1195,0.15],[1205,0.7],[1215,1.05],[1225,0.45],[1235,0.9],[1245,0.25],[1255,0.8],[1265,0.45],[1275,0.85],[1285,1.0],[1290,0.6],[1280,0.1],[1270,1.3],[1250,1.2],[1230,0.6],[1210,0.3],[1190,1.2],[1170,0.55],[1150,0.4],[1130,0.65],[1110,1.25],[1090,0.3],[1070,0.6],[1050,0.2],[1030,1.0],[1010,0.55],[990,1.0],[970,0.2],[950,0.5],[930,0.45],[910,0.7],[890,0.35],[870,0.55],[850,0.25],[830,0.6],[810,0.5],[790,0.3],[770,0.25],[750,0.4],[730,0.05],[710,0.35]];

// ---------- labels (rich text pieces: [text, level]) ----------
const label1 = [["Δa",0],["1",1],["/σ",0],["Δa",2],["1",3]];
const label3 = [["Δa",0],["3",1],["/σ",0],["Δa",2],["3",3]];
const label5 = [["Δa",0],["5",1],["/σ",0],["Δa",2],["5",3]];
const labelSum = [["Δ(a",0],["1",1],["+a",0],["3",1],["+a",0],["5",1],[")/σ",0],["Δ(a",2],["1",3],["+a",2],["3",3],["+a",2],["5",3],[")",2]];

const panels = [
  {black: a1Black.concat(a1BlackBand, a1BlackFill), red: a1Red.concat(a1RedBand, a1RedFill), label: label1, left: 0, top: -21},
  {black: a3Black.concat(a3BlackFill), red: a3Red.concat(a3RedFill), label: label3, left: 561, top: -21},
  {black: a5Black.concat(a5BlackFill), red: a5Red.concat(a5RedFill), label: label5, left: 0, top: 421},
  {black: sumBlack, red: sumRed.concat(sumRedFill), label: labelSum, left: 561, top: 421}
];

const W = 549, H = 421, ML = 80, MR = 18, MT = 20, MB = 70;
const wrap = document.getElementById("wrap");
const fmtMinus = d => (d < 0 ? "\u2212" + Math.abs(d) : String(d));

for (const p of panels) {
  const svg = Plot.plot({
    width: W, height: H,
    marginLeft: ML, marginRight: MR, marginTop: MT, marginBottom: MB,
    style: {background: "transparent", fontFamily: "'Liberation Sans', Arial, sans-serif"},
    x: {domain: [-19, 1414]},
    y: {domain: [-5, 4.28]},
    marks: [
      Plot.dot(p.black, {x: d => d[0], y: d => d[1], symbol: "diamond2", r: 2.9, stroke: "#000", strokeWidth: 1.1, fill: "none", shapeRendering: "crispEdges"}),
      Plot.dot(p.red, {x: d => d[0], y: d => d[1], symbol: "triangle", r: 2.4, stroke: "#ff0000", strokeWidth: 1.1, fill: "none", shapeRendering: "crispEdges"}),
      Plot.ruleY(limitLines, {stroke: "#00e600", strokeWidth: 1.2, strokeDasharray: "4,2"}),
      Plot.ruleY(zeroLine, {stroke: "#f000f0", strokeWidth: 1.2, strokeDasharray: "4,2"}),
      Plot.frame({stroke: "#000", strokeWidth: 2}),
      Plot.axisX({ticks: xTicks, tickSize: 5, tickPadding: 6, strokeWidth: 2, fontSize: 17, fontWeight: "bold",
        tickFormat: d => xLabelled.includes(d) ? String(d) : "", label: null}),
      Plot.axisY({ticks: yTicks, tickSize: 4, tickPadding: 8, strokeWidth: 2, fontSize: 17, fontWeight: "bold",
        tickFormat: d => yLabelled.includes(d) ? fmtMinus(d) : "", label: null})
    ]
  });
  svg.style.left = p.left + "px";
  svg.style.top = p.top + "px";
  const s = d3.select(svg);
  s.append("text")
    .attr("x", 295).attr("y", MT + 331 + 52)
    .attr("text-anchor", "middle")
    .attr("font-family", "'DejaVu Sans', sans-serif")
    .attr("font-size", 22)
    .attr("textLength", 360).attr("lengthAdjust", "spacingAndGlyphs")
    .attr("fill", "#000")
    .text(xTitle);
  const t = s.append("text")
    .attr("transform", `translate(${ML - 41},${MT + 331 / 2}) rotate(-90)`)
    .attr("text-anchor", "middle")
    .attr("font-family", "'DejaVu Sans', sans-serif")
    .attr("fill", "#000");
  const sizes = [31, 13, 19, 12];
  const offs = [0, 2, 4, 7];
  let cur = 0;
  for (const [txt, lvl] of p.label) {
    t.append("tspan").attr("font-size", sizes[lvl]).attr("dy", offs[lvl] - cur).text(txt);
    cur = offs[lvl];
  }
  wrap.appendChild(svg);
}
</script></body></html>
